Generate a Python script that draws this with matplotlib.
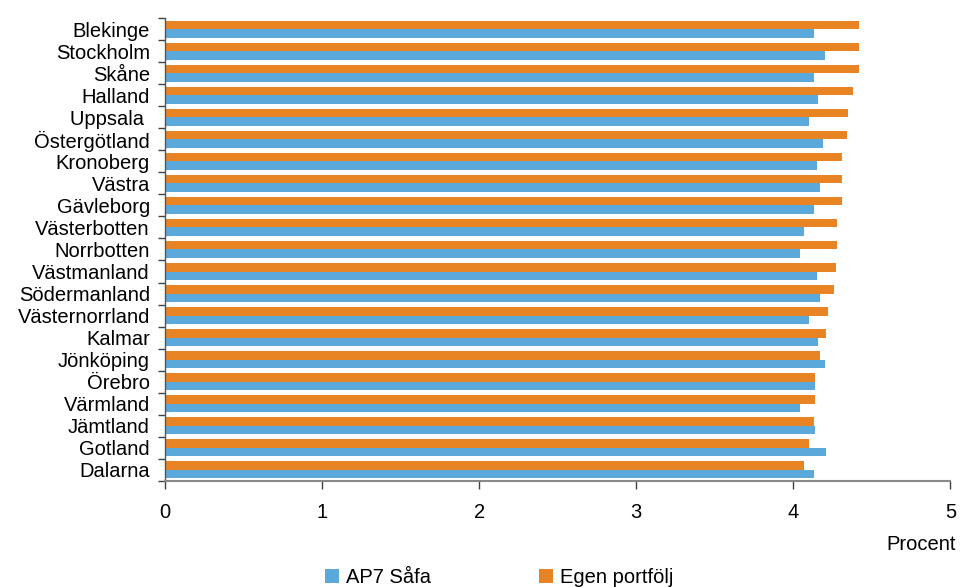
import numpy as np
import matplotlib.pyplot as plt

plt.rcParams['font.family'] = ['Liberation Sans', 'DejaVu Sans']

regions = ['Blekinge', 'Stockholm', 'Skåne', 'Halland', 'Uppsala ', 'Östergötland',
           'Kronoberg', 'Västra', 'Gävleborg', 'Västerbotten', 'Norrbotten',
           'Västmanland', 'Södermanland', 'Västernorrland', 'Kalmar', 'Jönköping',
           'Örebro', 'Värmland', 'Jämtland', 'Gotland', 'Dalarna']
ap7_safa = [4.13, 4.20, 4.13, 4.16, 4.10, 4.19, 4.15, 4.17, 4.13, 4.07, 4.04,
            4.15, 4.17, 4.10, 4.16, 4.20, 4.14, 4.04, 4.14, 4.21, 4.13]
egen = [4.42, 4.42, 4.42, 4.38, 4.35, 4.34, 4.31, 4.31, 4.31, 4.28, 4.28,
        4.27, 4.26, 4.22, 4.21, 4.17, 4.14, 4.14, 4.13, 4.10, 4.07]

blue = '#5BA8DB'
orange = '#E88424'
fs = 14.5

fig = plt.figure(figsize=(9.6, 5.87), dpi=100)
ax = fig.add_axes([0.172, 0.181, 0.818, 0.788])

y = np.arange(len(regions))
h = 0.39
ax.barh(y - h / 2, egen, height=h, color=orange, label='Egen portfölj')
ax.barh(y + h / 2, ap7_safa, height=h, color=blue, label='AP7 Såfa')

ax.set_ylim(len(regions) - 0.5, -0.5)
ax.set_xlim(0, 5)
ax.set_xticks(range(6))
ax.set_yticks(y)
ax.set_yticklabels(regions, fontsize=fs)
ax.set_yticks(np.arange(len(regions) + 1) - 0.5, minor=True)
ax.tick_params(axis='y', which='major', length=0, pad=11)
ax.tick_params(axis='y', which='minor', length=5, width=1, color='#404040')
ax.tick_params(axis='x', length=6, width=1, color='#404040', labelsize=fs, pad=10)

for s in ['top', 'right']:
    ax.spines[s].set_visible(False)
ax.spines['bottom'].set_color('#888888')
ax.spines['bottom'].set_linewidth(1.5)
ax.spines['left'].set_color('#555555')
ax.spines['left'].set_linewidth(1)

fig.text(0.996, 0.072, 'Procent', ha='right', va='center', fontsize=fs)

handles, labels = ax.get_legend_handles_labels()
leg = fig.legend(handles[::-1], labels[::-1], loc='center', bbox_to_anchor=(0.52, 0.0155),
                 ncol=2, frameon=False, fontsize=fs, handlelength=0.7,
                 handleheight=0.7, handletextpad=0.35, columnspacing=5.35)

fig.savefig('out.png', dpi=100)
